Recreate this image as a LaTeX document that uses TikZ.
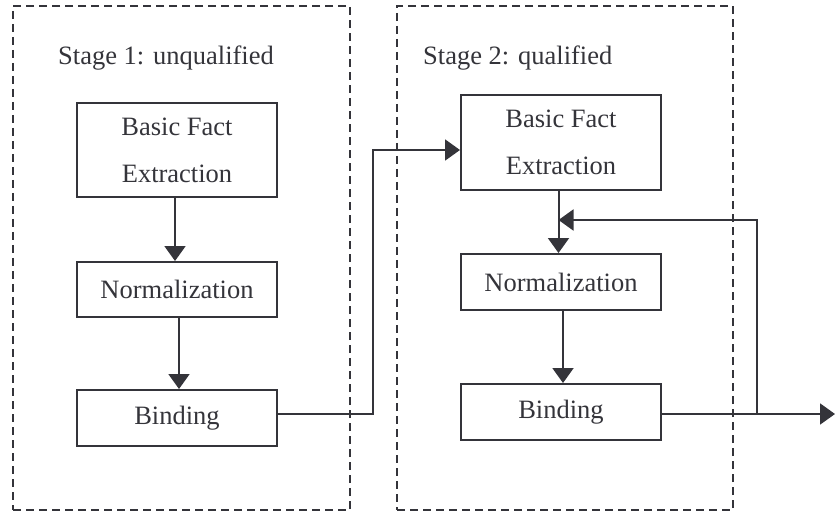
\documentclass[tikz,border=0pt]{standalone}
\usepackage{fontspec}
\setmainfont{Liberation Serif}
\usetikzlibrary{arrows.meta}
\definecolor{ink}{RGB}{52,52,58}
\begin{document}
\begin{tikzpicture}[x=1pt,y=-1pt,
  every node/.style={text=ink, font=\fontsize{26.5}{47}\selectfont},
  procbox/.style={draw=ink, line width=2pt, inner sep=0pt, minimum width=200pt, align=center},
  stagebox/.style={draw=ink, line width=1.8pt, dash pattern=on 8pt off 5pt, inner sep=0pt},
  title/.style={anchor=base west, inner sep=0pt},
  flow/.style={draw=ink, line width=2pt, -{Triangle[length=15pt,width=21pt]}},
]
\useasboundingbox (0,0) rectangle (835,513);

% stage frames
\node[stagebox, minimum width=337pt, minimum height=504pt] (stage1) at (181.5,258) {};
\node[stagebox, minimum width=336pt, minimum height=504pt] (stage2) at (565,258) {};
\node[title] (t1) at (58,65) {Stage 1: unqualified};
\node[title] (t2) at (423,65) {Stage 2: qualified};

% stage 1 pipeline
\node[procbox, minimum height=94pt] (bfe1) at (177,150) {Basic Fact\\Extraction};
\node[procbox, minimum height=55pt] (norm1) at (177,289.5) {Normalization};
\node[procbox, minimum height=56pt] (bind1) at (177,418) {Binding};

% stage 2 pipeline
\node[procbox, minimum height=95pt] (bfe2) at (561,142.5) {Basic Fact\\Extraction};
\node[procbox, minimum height=56pt] (norm2) at (561,282) {Normalization};
\node[procbox, minimum height=56pt] (bind2) at (561,412) {Binding};

% stage 1 flow
\draw[flow] ([xshift=-2pt]bfe1.south) -- ([xshift=-2pt]norm1.north);
\draw[flow] ([xshift=2pt]norm1.south) -- ([xshift=2pt]bind1.north);

% hand-over from stage 1 to stage 2
\coordinate (riser) at (373,150);
\draw[flow] ([yshift=4pt]bind1.east) -| (riser) -- (riser -| bfe2.west);

% stage 2 flow
\draw[flow] ([xshift=-2.5pt]bfe2.south) -- ([xshift=-2.5pt]norm2.north);
\draw[flow] ([xshift=2pt]norm2.south) -- ([xshift=2pt]bind2.north);

% output and feedback loop
\coordinate (out) at (835,414);
\coordinate (fb) at (757,414);
\coordinate (fbtop) at (757,220);
\coordinate (merge) at (558.5,220);
\draw[flow] ([yshift=-2pt]bind2.east) -- (out);
\draw[flow] (fb) -- (fbtop) -- (merge);
\end{tikzpicture}
\end{document}
